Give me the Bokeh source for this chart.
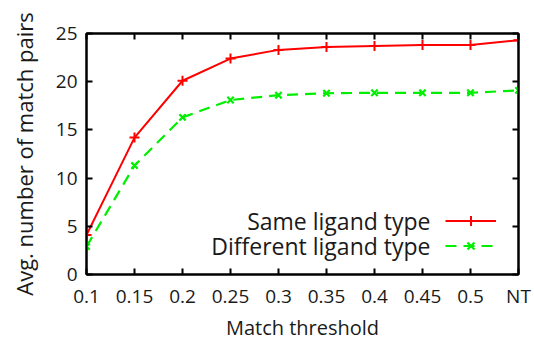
from bokeh.plotting import figure
from bokeh.models import Range1d, FixedTicker, LinearAxis, Legend, LegendItem, Label
from bokeh.embed import file_html
from bokeh.resources import INLINE

thresholds = ["0.1", "0.15", "0.2", "0.25", "0.3", "0.35", "0.4", "0.45", "0.5", "NT"]
same_ligand = [4.1, 14.2, 20.1, 22.4, 23.3, 23.6, 23.7, 23.8, 23.8, 24.3]
diff_ligand = [2.9, 11.3, 16.3, 18.1, 18.6, 18.8, 18.85, 18.85, 18.85, 19.1]
y_ticks = [0, 5, 10, 15, 20, 25]

FONT = "Open Sans"
TXT = "#1a1a1a"
xs = list(range(len(thresholds)))

p = figure(width=534, height=343, output_backend="svg", toolbar_location=None,
           x_range=Range1d(0, len(thresholds) - 1), y_range=Range1d(0, 25),
           min_border_left=86, min_border_right=16, min_border_top=33, min_border_bottom=66,
           x_axis_label="Match threshold", y_axis_label="Avg. number of match pairs")
p.xgrid.visible = False
p.ygrid.visible = False
p.outline_line_color = "black"
p.outline_line_width = 2
p.background_fill_color = "white"
p.border_fill_color = "white"

overrides = {i: t for i, t in enumerate(thresholds)}
for ax in p.xaxis:
    ax.ticker = FixedTicker(ticks=xs)
    ax.major_label_overrides = overrides
for ax in p.yaxis:
    ax.ticker = FixedTicker(ticks=y_ticks)

for ax in list(p.xaxis) + list(p.yaxis):
    ax.major_tick_in = 6
    ax.major_tick_out = 0
    ax.minor_tick_line_color = None
    ax.major_tick_line_width = 2
    ax.axis_line_width = 2
    ax.major_label_text_font = FONT
    ax.major_label_text_font_size = "19px"
    ax.major_label_text_color = TXT
    ax.axis_label_text_font = FONT
    ax.axis_label_text_font_style = "normal"
    ax.axis_label_text_color = TXT
p.xaxis.major_label_standoff = 8
p.yaxis.major_label_standoff = 9
p.xaxis.axis_label_text_font_size = "20px"
p.yaxis.axis_label_text_font_size = "22px"
p.xaxis.axis_label_standoff = 2
p.yaxis.axis_label_standoff = 14

# mirrored tick marks on the top and right edges, without labels
top = LinearAxis(ticker=FixedTicker(ticks=xs), major_label_text_color=None,
                 major_label_standoff=0, major_label_text_font_size="10px",
                 major_tick_in=6, major_tick_out=0, major_tick_line_width=2,
                 axis_line_width=2, minor_tick_line_color=None)
right = LinearAxis(ticker=FixedTicker(ticks=y_ticks), major_label_text_color=None,
                   major_label_standoff=0, major_label_text_font_size="10px",
                   major_tick_in=6, major_tick_out=0, major_tick_line_width=2,
                   axis_line_width=2, minor_tick_line_color=None)
p.add_layout(top, "above")
p.add_layout(right, "right")

r1 = p.line(xs, same_ligand, line_color="#ff0000", line_width=2)
m1 = p.scatter(xs, same_ligand, marker="cross", size=10, line_color="#ff0000", line_width=2)
r2 = p.line(xs, diff_ligand, line_color="#00ee00", line_width=2.2, line_dash="11 7")
m2 = p.scatter(xs, diff_ligand, marker="x", size=9, line_color="#00ee00", line_width=2.2)

legend = Legend(items=[LegendItem(label="", renderers=[r1, m1]),
                       LegendItem(label="", renderers=[r2, m2])],
                location=(359, 16), glyph_width=51, glyph_height=25,
                label_width=0, label_standoff=0, label_text_font_size="1px",
                padding=0, margin=0, spacing=0,
                background_fill_alpha=0, border_line_color=None)
p.add_layout(legend)

p.add_layout(Label(x=344, y=54, x_units="screen", y_units="screen", text="Same ligand type",
                   text_align="right", text_baseline="middle", text_font=FONT,
                   text_font_size="23px", text_color=TXT))
p.add_layout(Label(x=344, y=29, x_units="screen", y_units="screen", text="Different ligand type",
                   text_align="right", text_baseline="middle", text_font=FONT,
                   text_font_size="23px", text_color=TXT))

open("out.html", "w").write(file_html(p, INLINE))
